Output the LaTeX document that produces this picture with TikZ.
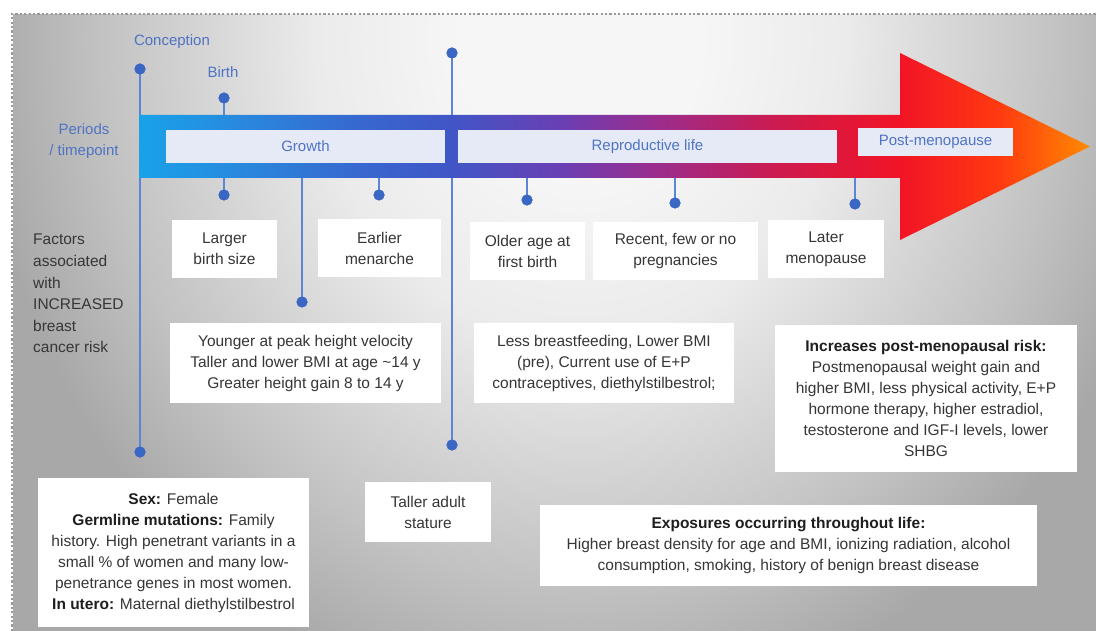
\documentclass[tikz,border=0pt]{standalone}
\usepackage{fontspec}
\setmainfont{Liberation Sans}
\usetikzlibrary{shapes.geometric}

% palette
\definecolor{tline}{HTML}{5B86D6}
\definecolor{tdot}{HTML}{3A66C4}
\definecolor{lbl}{HTML}{4F74C4}
\definecolor{bandfill}{HTML}{E5EAF6}
\definecolor{txt}{HTML}{363636}
\definecolor{txtb}{HTML}{1E1E1E}
\definecolor{bgc}{HTML}{F6F6F6}
\definecolor{bgm}{HTML}{EBEBEB}
\definecolor{bgd}{HTML}{D4D4D4}
\definecolor{bgf}{HTML}{C2C2C2}
\definecolor{bge}{HTML}{A8A8A8}
\definecolor{a0}{HTML}{19A2E8}
\definecolor{a1}{HTML}{2A86DC}
\definecolor{a2}{HTML}{366AD0}
\definecolor{a3}{HTML}{4156C6}
\definecolor{a4}{HTML}{6A3FB4}
\definecolor{a5}{HTML}{982E90}
\definecolor{a6}{HTML}{CE1A4E}
\definecolor{a7}{HTML}{F21426}
\definecolor{a8}{HTML}{FF3A10}
\definecolor{a9}{HTML}{FF8A00}

% colour ramp of the life-course arrow (central 25..75bp spans the path)
\pgfdeclarehorizontalshading{liferamp}{100bp}{%
  color(0bp)=(a0); color(25bp)=(a0); color(30.85bp)=(a1); color(36.1bp)=(a2);
  color(41.35bp)=(a3); color(47.15bp)=(a4); color(51.85bp)=(a5);
  color(58.7bp)=(a6); color(65bp)=(a7); color(70.25bp)=(a8);
  color(75bp)=(a9); color(100bp)=(a9)}
% soft backdrop, light near the top centre
\pgfdeclareradialshading{backdrop}{\pgfpoint{0bp}{0bp}}{%
  color(0bp)=(bgc); color(5bp)=(bgc); color(11bp)=(bgm); color(16bp)=(bgd);
  color(20bp)=(bgf); color(25bp)=(bge); color(50bp)=(bge)}

\tikzset{
  card/.style={fill=white, text=txt, align=center, inner sep=0pt,
    font=\fontsize{15.5}{21}\selectfont},
  band/.style={fill=bandfill, text=lbl, inner sep=0pt,
    font=\fontsize{15}{18}\selectfont},
  tick/.style={circle, fill=tdot, inner sep=0pt, minimum size=11pt},
  stem/.style={draw=tline, line width=2pt},
  bluelbl/.style={text=lbl, inner sep=0pt, align=center,
    font=\fontsize{15}{21}\selectfont},
}

\begin{document}
\begin{tikzpicture}[x=1pt,y=-1pt]
\useasboundingbox (0,0) rectangle (1096,631);

% backdrop
\fill[white] (0,0) rectangle (1096,631);
\begin{scope}
  \clip (13,15) rectangle (1096,631);
  \fill[bge] (13,15) rectangle (1096,631);
  \shade[shading=backdrop] (580,40) ellipse [x radius=600, y radius=680];
\end{scope}
\draw[black!40, line width=2.2pt, dash pattern=on 2.2pt off 2.2pt]
  (12,631) -- (12,14) -- (1096,14);

% timepoint markers
\node[tick] (conc)  at (140,69)  {};
\node[tick] (concB) at (140,452) {};
\node[tick] (birth) at (224,98)  {};
\node[tick] (birthB) at (224,195) {};
\node[tick] (phv)   at (302,302) {};
\node[tick] (men)   at (379,195) {};
\node[tick] (adult) at (452,53)  {};
\node[tick] (adultB) at (452,445) {};
\node[tick] (fb)    at (527,200) {};
\node[tick] (preg)  at (675,203) {};
\node[tick] (meno)  at (855,204) {};
\coordinate (phvT)  at (302,146);
\coordinate (menT)  at (379,146);
\coordinate (fbT)   at (527,146);
\coordinate (pregT) at (675,146);
\coordinate (menoT) at (855,146);

\draw[stem] (conc.center) -- (concB.center);
\draw[stem] (birth.center) -- (birthB.center);
\draw[stem] (adult.center) -- (adultB.center);
\draw[stem] (phvT) -- (phv.center);
\draw[stem] (menT) -- (men.center);
\draw[stem] (fbT) -- (fb.center);
\draw[stem] (pregT) -- (preg.center);
\draw[stem] (menoT) -- (meno.center);

% life-course arrow
\shade[shading=liferamp]
  (139,115) -- (900,115) -- (900,53) -- (1090,146.5) -- (900,240)
  -- (900,178) -- (139,178) -- cycle;

% period bands
\node[band, minimum width=279pt, minimum height=33pt] (growth) at (305.5,146.5) {Growth};
\node[band, minimum width=379pt, minimum height=33pt] (repro) at (647.5,146.5) {Reproductive life};
\node[band, minimum width=155pt, minimum height=28pt] (post) at (935.5,142) {Post-menopause};

% redraw markers on top
\foreach \n in {conc,concB,birth,birthB,phv,men,adult,adultB,fb,preg,meno}
  \fill[tdot] (\n) circle (5.5);

% labels
\node[bluelbl] (lconc)  at (172,42) {Conception};
\node[bluelbl] (lbirth) at (223,72) {Birth};
\node[bluelbl] (lper)   at (84,141) {Periods\\/ timepoint};
\node[text=txt, align=left, inner sep=0pt, anchor=north west,
  font=\fontsize{15.5}{21.6}\selectfont] (factors) at (33,234)
  {Factors\\associated\\with\\INCREASED\\breast\\cancer risk};

% factor cards
\node[card, minimum width=105pt, minimum height=58pt] (c1) at (224.5,249) {Larger\\birth size};
\node[card, minimum width=123pt, minimum height=58pt] (c2) at (379.5,248) {Earlier\\menarche};
\node[card, minimum width=115pt, minimum height=58pt] (c3) at (527.5,251) {Older age at\\first birth};
\node[card, minimum width=165pt, minimum height=58pt] (c4) at (675.5,251) {Recent, few or no\\pregnancies};
\node[card, minimum width=116pt, minimum height=58pt] (c5) at (826,249) {Later\\menopause};
\node[card, minimum width=271pt, minimum height=80pt] (c6) at (305.5,363)
  {Younger at peak height velocity\\Taller and lower BMI at age \textasciitilde14 y\\Greater height gain 8 to 14 y};
\node[card, minimum width=260pt, minimum height=80pt] (c7) at (604,363)
  {Less breastfeeding, Lower BMI\\(pre), Current use of E+P\\contraceptives, diethylstilbestrol;};
\node[card, minimum width=302pt, minimum height=147pt] (c8) at (926,398.5)
  {\textcolor{txtb}{\bfseries Increases post-menopausal risk:}\\Postmenopausal weight gain and\\higher BMI, less physical activity, E+P\\hormone therapy, higher estradiol,\\testosterone and IGF-I levels, lower\\SHBG};
\node[card, minimum width=271pt, minimum height=149pt] (c9) at (173.5,552.5)
  {\textcolor{txtb}{\bfseries Sex:} Female\\\textcolor{txtb}{\bfseries Germline mutations:} Family\\history. High penetrant variants in a\\small \% of women and many low-\\penetrance genes in most women.\\\textcolor{txtb}{\bfseries In utero:} Maternal diethylstilbestrol};
\node[card, minimum width=126pt, minimum height=60pt] (c10) at (428,512) {Taller adult\\stature};
\node[card, minimum width=497pt, minimum height=81pt] (c11) at (788.5,545.5)
  {\textcolor{txtb}{\bfseries Exposures occurring throughout life:}\\Higher breast density for age and BMI, ionizing radiation, alcohol\\consumption, smoking, history of benign breast disease};
\end{tikzpicture}
\end{document}
